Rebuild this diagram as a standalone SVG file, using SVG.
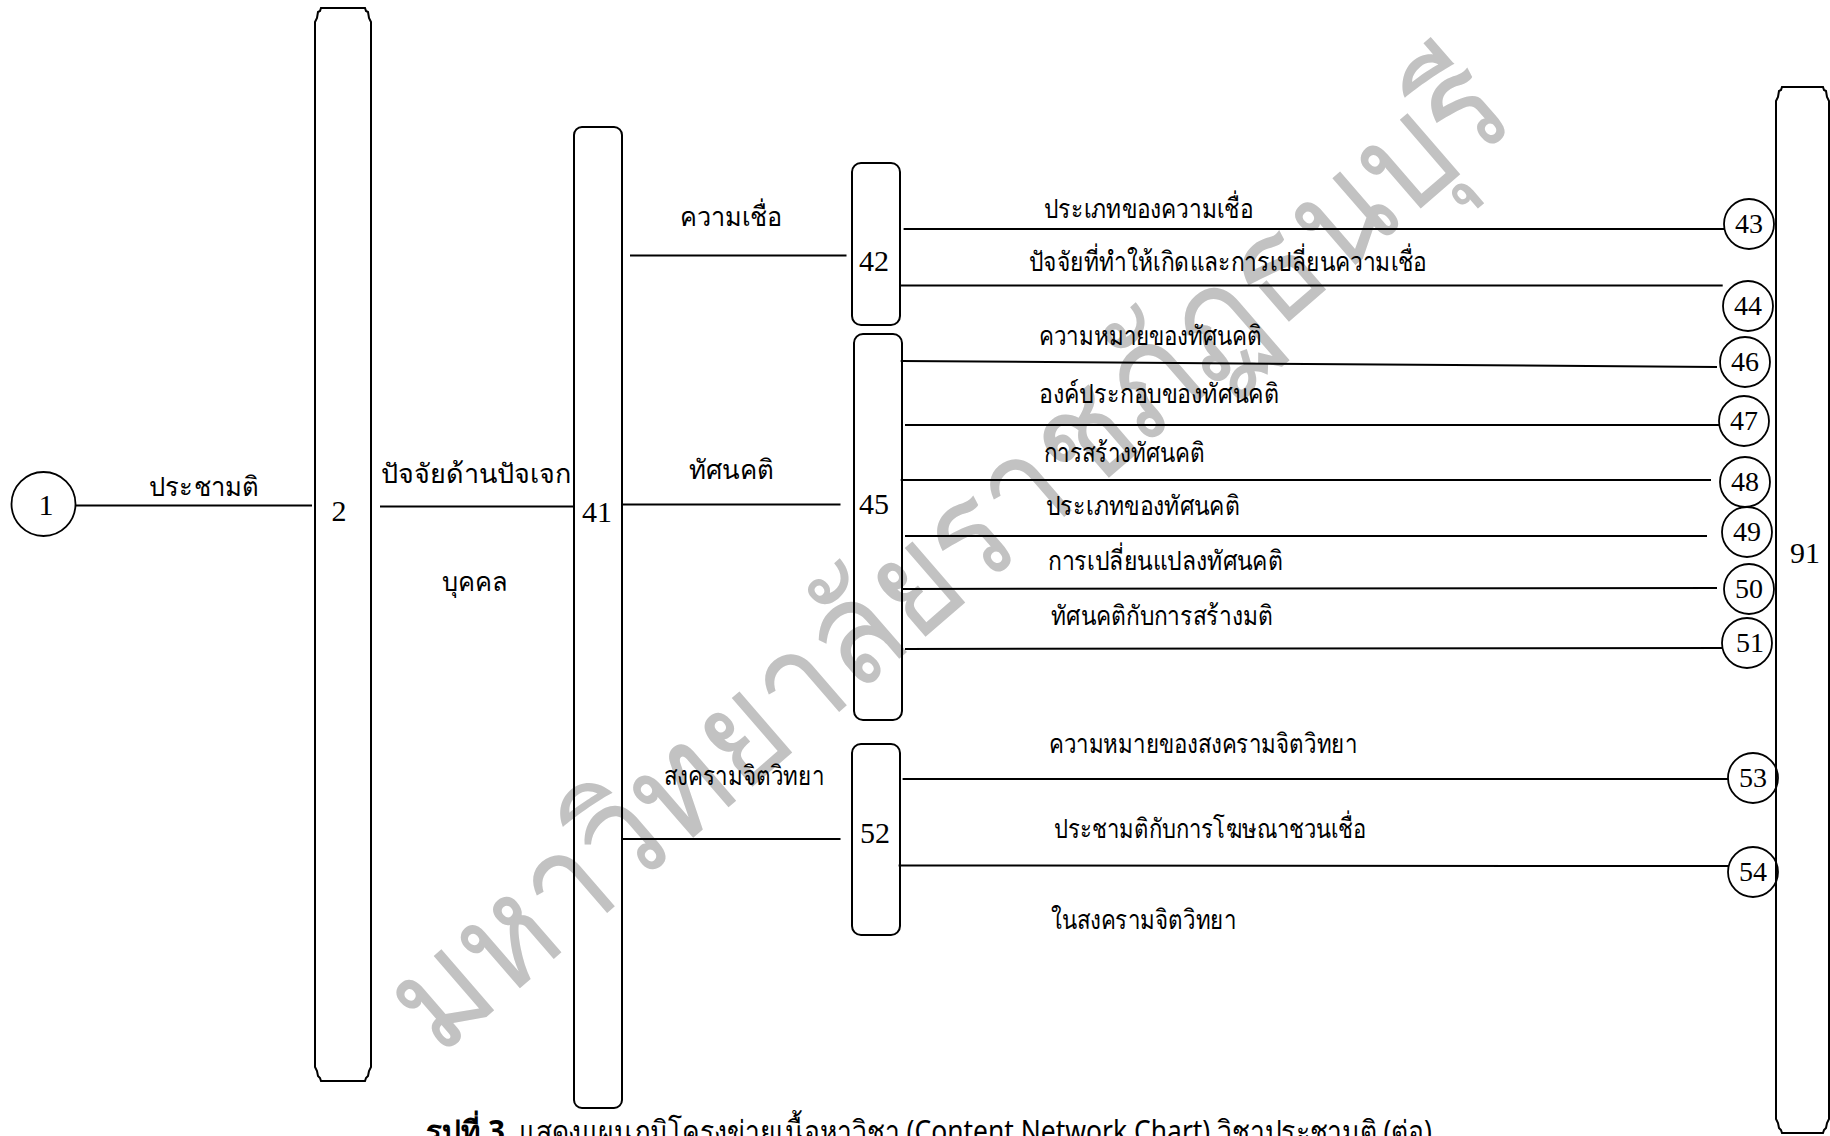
<svg xmlns="http://www.w3.org/2000/svg" width="1830" height="1136" viewBox="0 0 1830 1136">
<style>
.bg{fill:#ffffff}
.box{fill:none;stroke:#000;stroke-width:2}
.circ{fill:#fff;stroke:#000;stroke-width:1.8}
.ln{stroke:#000;stroke-width:2;fill:none}
.num{font-family:"Liberation Serif","DejaVu Serif",serif;font-size:30px;fill:#000;text-anchor:middle}
.cnum{font-family:"Liberation Serif","DejaVu Serif",serif;font-size:28px;fill:#000;text-anchor:middle}
.lbl{font-family:"Noto Sans","Liberation Sans","DejaVu Sans",sans-serif;font-size:27px;fill:#000}
.cap{font-family:"Noto Sans","Liberation Sans","DejaVu Sans",sans-serif;font-size:30px;fill:#000}
.capb{font-family:"Noto Sans","Liberation Sans","DejaVu Sans",sans-serif;font-size:30px;font-weight:bold;fill:#000}
.wm{font-family:"Liberation Serif","Noto Sans",serif;font-size:145px;fill:#c2c2c2;text-anchor:middle}
</style>
<rect class="bg" x="0" y="0" width="1830" height="1136"/>
<g id="watermark">
<g transform="translate(953,560) rotate(-40.9)">
<text class="wm" x="0" y="40" textLength="1430" lengthAdjust="spacingAndGlyphs">มหาวิทยาลัยราชภัฏธนบุรี</text>
</g>
</g>
<g id="connectors">
<line class="ln" x1="75.5" y1="505.5" x2="312" y2="505.5"/>
<line class="ln" x1="380" y1="506.5" x2="573.5" y2="506.5"/>
<line class="ln" x1="630" y1="255.6" x2="846.5" y2="255.6"/>
<line class="ln" x1="623" y1="504.4" x2="840.5" y2="504.4"/>
<line class="ln" x1="623" y1="839" x2="840.5" y2="839"/>
<line class="ln" x1="903.6" y1="229" x2="1724" y2="229"/>
<line class="ln" x1="900.7" y1="285.5" x2="1722.7" y2="285.5"/>
<line class="ln" x1="900.7" y1="361" x2="1717" y2="367"/>
<line class="ln" x1="905" y1="425" x2="1719" y2="425"/>
<line class="ln" x1="900.7" y1="480" x2="1711" y2="480"/>
<line class="ln" x1="905" y1="536" x2="1707" y2="536"/>
<line class="ln" x1="902.6" y1="589" x2="1717" y2="588"/>
<line class="ln" x1="905" y1="649" x2="1726" y2="648"/>
<line class="ln" x1="902.6" y1="779" x2="1729" y2="779"/>
<line class="ln" x1="898.6" y1="865.5" x2="1729" y2="866"/>
</g>
<g id="labels">
<text class="lbl" x="149" y="496" textLength="110" lengthAdjust="spacingAndGlyphs">ประชามติ</text>
<text class="lbl" x="381" y="483" textLength="190" lengthAdjust="spacingAndGlyphs">ปัจจัยด้านปัจเจก</text>
<text class="lbl" x="442" y="591" textLength="66" lengthAdjust="spacingAndGlyphs">บุคคล</text>
<text class="lbl" x="680" y="226" textLength="102" lengthAdjust="spacingAndGlyphs">ความเชื่อ</text>
<text class="lbl" x="689" y="479" textLength="85" lengthAdjust="spacingAndGlyphs">ทัศนคติ</text>
<text class="lbl" x="664" y="785" textLength="160" lengthAdjust="spacingAndGlyphs">สงครามจิตวิทยา</text>
<text class="lbl" x="1044" y="218" textLength="209" lengthAdjust="spacingAndGlyphs">ประเภทของความเชื่อ</text>
<text class="lbl" x="1029" y="271" textLength="398" lengthAdjust="spacingAndGlyphs">ปัจจัยที่ทำให้เกิดและการเปลี่ยนความเชื่อ</text>
<text class="lbl" x="1039" y="345" textLength="223" lengthAdjust="spacingAndGlyphs">ความหมายของทัศนคติ</text>
<text class="lbl" x="1039" y="403" textLength="240" lengthAdjust="spacingAndGlyphs">องค์ประกอบของทัศนคติ</text>
<text class="lbl" x="1044" y="462" textLength="161" lengthAdjust="spacingAndGlyphs">การสร้างทัศนคติ</text>
<text class="lbl" x="1046" y="515" textLength="194" lengthAdjust="spacingAndGlyphs">ประเภทของทัศนคติ</text>
<text class="lbl" x="1048" y="570" textLength="235" lengthAdjust="spacingAndGlyphs">การเปลี่ยนแปลงทัศนคติ</text>
<text class="lbl" x="1051" y="625" textLength="222" lengthAdjust="spacingAndGlyphs">ทัศนคติกับการสร้างมติ</text>
<text class="lbl" x="1049" y="753" textLength="308" lengthAdjust="spacingAndGlyphs">ความหมายของสงครามจิตวิทยา</text>
<text class="lbl" x="1054" y="838" textLength="312" lengthAdjust="spacingAndGlyphs">ประชามติกับการโฆษณาชวนเชื่อ</text>
<text class="lbl" x="1051" y="929" textLength="185" lengthAdjust="spacingAndGlyphs">ในสงครามจิตวิทยา</text>
</g>
<g id="node-1"><circle class="circ" cx="43.5" cy="504" r="32"/><text class="num" x="46" y="515">1</text></g>
<g id="node-2"><path class="box" d="M321,8 H365 L366,11 L368,12 L369,18 L371,22 V1067 L369,1071 L368,1076 L366,1078 L365,1081 H321 L320,1078 L318,1076 L317,1071 L315,1067 V22 L317,18 L318,12 L320,11 Z"/><text class="num" x="339" y="521">2</text></g>
<g id="node-41"><rect class="box" x="574" y="127" width="48" height="981" rx="8"/><text class="num" x="597" y="522">41</text></g>
<g id="node-42"><rect class="box" x="852" y="163" width="48" height="162" rx="9"/><text class="num" x="874" y="271">42</text></g>
<g id="node-45"><rect class="box" x="854" y="334" width="48" height="386" rx="9"/><text class="num" x="874" y="514">45</text></g>
<g id="node-52"><rect class="box" x="852" y="744" width="48" height="191" rx="9"/><text class="num" x="875" y="843">52</text></g>
<g id="node-43"><circle class="circ" cx="1749" cy="224" r="25"/><text class="cnum" x="1749" y="233">43</text></g>
<g id="node-44"><circle class="circ" cx="1748" cy="306" r="25"/><text class="cnum" x="1748" y="315">44</text></g>
<g id="node-46"><circle class="circ" cx="1745" cy="362" r="25"/><text class="cnum" x="1745" y="371">46</text></g>
<g id="node-47"><circle class="circ" cx="1744" cy="421" r="25"/><text class="cnum" x="1744" y="430">47</text></g>
<g id="node-48"><circle class="circ" cx="1745" cy="482" r="25"/><text class="cnum" x="1745" y="491">48</text></g>
<g id="node-49"><circle class="circ" cx="1747" cy="532" r="25"/><text class="cnum" x="1747" y="541">49</text></g>
<g id="node-50"><circle class="circ" cx="1749" cy="589" r="25"/><text class="cnum" x="1749" y="598">50</text></g>
<g id="node-51"><circle class="circ" cx="1747" cy="643" r="25"/><text class="cnum" x="1750" y="652">51</text></g>
<g id="node-53"><circle class="circ" cx="1753" cy="778" r="25"/><text class="cnum" x="1753" y="787">53</text></g>
<g id="node-54"><circle class="circ" cx="1753" cy="872" r="25"/><text class="cnum" x="1753" y="881">54</text></g>
<g id="node-91"><path class="box" d="M1782,87 H1823 L1824,90 L1826,91 L1827,97 L1829,101 V1119 L1827,1123 L1826,1128 L1824,1130 L1823,1133 H1782 L1781,1130 L1779,1128 L1778,1123 L1776,1119 V101 L1778,97 L1779,91 L1781,90 Z"/><text class="num" x="1805" y="563">91</text></g>
<g id="caption">
<text class="capb" x="426" y="1142" textLength="79" lengthAdjust="spacingAndGlyphs">รูปที่ 3</text>
<text class="cap" x="519" y="1142" textLength="913" lengthAdjust="spacingAndGlyphs">แสดงแผนภูมิโครงข่ายเนื้อหาวิชา (Content Network Chart) วิชาประชามติ (ต่อ)</text>
</g>
</svg>
